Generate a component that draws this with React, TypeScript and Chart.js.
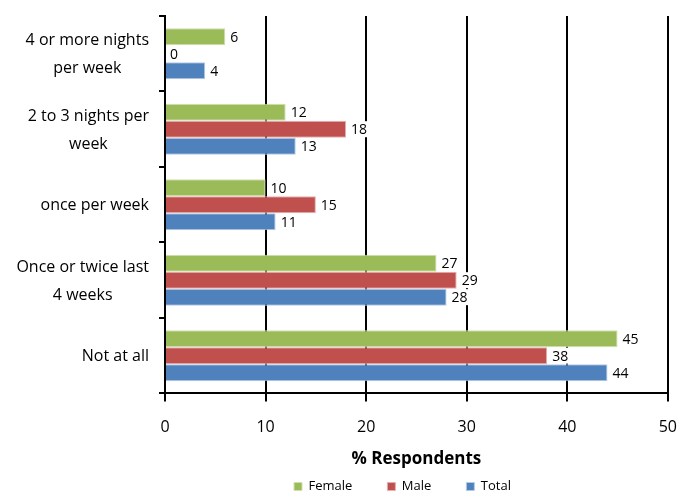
import React, { useEffect, useRef } from "react";
import { Chart, registerables } from "chart.js";

Chart.register(...registerables);

const categories: string[][] = [
  ["4 or more nights", "per week"],
  ["2 to 3 nights per", "week"],
  ["once per week"],
  ["Once or twice last", "4 weeks"],
  ["Not at all"],
];
const femaleValues = [6, 12, 10, 27, 45];
const maleValues = [0, 18, 15, 29, 38];
const totalValues = [4, 13, 11, 28, 44];
const xTicks = [0, 10, 20, 30, 40, 50];

const FONT = '"Open Sans", "Noto Sans", sans-serif';

const valueLabels = {
  id: "valueLabels",
  afterDatasetsDraw(chart: any) {
    const ctx = chart.ctx;
    ctx.save();
    ctx.font = `14px ${FONT}`;
    ctx.textBaseline = "middle";
    ctx.textAlign = "left";
    chart.data.datasets.forEach((ds: any, di: number) => {
      const meta = chart.getDatasetMeta(di);
      meta.data.forEach((el: any, i: number) => {
        const txt = String(ds.data[i]);
        const x = el.x + 5;
        const y = el.y;
        const w = ctx.measureText(txt).width;
        ctx.fillStyle = "#ffffff";
        ctx.fillRect(x - 2, y - 8, w + 4, 16);
        ctx.fillStyle = "#000000";
        ctx.fillText(txt, x, y + 1);
      });
    });
    ctx.restore();
  },
};

const categoryLabels = {
  id: "categoryLabels",
  afterDraw(chart: any) {
    const ctx = chart.ctx;
    const yScale = chart.scales.y;
    const right = chart.chartArea.left - 16;
    const lineGap = 28;
    ctx.save();
    ctx.font = `16px ${FONT}`;
    ctx.fillStyle = "#000000";
    ctx.textBaseline = "middle";
    ctx.textAlign = "center";
    (chart.data.labels as string[][]).forEach((lines, i) => {
      const cy = yScale.getPixelForValue(i);
      const maxW = Math.max(...lines.map((l) => ctx.measureText(l).width));
      const cx = right - maxW / 2;
      const start = cy - ((lines.length - 1) * lineGap) / 2;
      lines.forEach((l, k) => ctx.fillText(l, cx, start + 1 + k * lineGap));
    });
    ctx.restore();
  },
};

const legendShift = {
  id: "legendShift",
  afterLayout(chart: any) {
    const l = chart.legend;
    if (l) {
      l.left += 64;
      l.right += 64;
      l.top -= 24;
      l.bottom -= 24;
    }
  },
};

export default function App() {
  const ref = useRef<HTMLCanvasElement | null>(null);
  useEffect(() => {
    if (!ref.current) return;
    Chart.defaults.font.family = FONT;
    const chart = new Chart(ref.current, {
      type: "bar",
      data: {
        labels: categories as any,
        datasets: [
          { label: "Female", data: femaleValues, backgroundColor: "#9BBB59", borderColor: "#D0E0B0", borderWidth: 1 },
          { label: "Male", data: maleValues, backgroundColor: "#C0504D", borderColor: "#E2B0AE", borderWidth: 1 },
          { label: "Total", data: totalValues, backgroundColor: "#4F81BD", borderColor: "#B5CAE4", borderWidth: 1 },
        ],
      },
      options: {
        indexAxis: "y",
        animation: false,
        responsive: true,
        maintainAspectRatio: false,
        datasets: { bar: { categoryPercentage: 0.675, barPercentage: 1 } },
        layout: { padding: { top: 16, left: 0, right: 0, bottom: -36 } },
        scales: {
          x: {
            type: "linear",
            min: xTicks[0],
            max: xTicks[xTicks.length - 1],
            afterBuildTicks: (s: any) => {
              s.ticks = xTicks.map((v) => ({ value: v }));
            },
            ticks: { color: "#000", font: { size: 16, family: FONT, lineHeight: 3.2 }, padding: 0 },
            grid: { color: "#000", lineWidth: 2, tickLength: 8, tickColor: "#000", tickWidth: 2 },
            border: { display: true, color: "#000", width: 2 },
            title: {
              display: true,
              text: "% Respondents",
              color: "#000",
              font: { size: 17, weight: "bold", family: FONT },
              padding: { top: -4, bottom: 0 },
            },
          },
          y: {
            type: "category",
            offset: true,
            ticks: { display: false },
            grid: {
              offset: true,
              drawOnChartArea: false,
              drawTicks: true,
              tickLength: 6,
              color: "#000",
              lineWidth: 2,
            },
            border: { display: true, color: "#000", width: 2 },
            afterFit: (s: any) => {
              s.width = 165;
            },
          },
        },
        plugins: {
          legend: {
            position: "bottom",
            labels: {
              boxWidth: 8,
              boxHeight: 8,
              padding: 35,
              color: "#000",
              font: { size: 13, family: FONT },
            },
          },
          tooltip: { enabled: false },
        },
      } as any,
      plugins: [valueLabels, categoryLabels, legendShift],
    });
    return () => chart.destroy();
  }, []);
  return (
    <div style={{ position: "fixed", left: 0, top: 0, width: 677, height: 491, background: "#fff" }}>
      <canvas ref={ref} />
    </div>
  );
}
